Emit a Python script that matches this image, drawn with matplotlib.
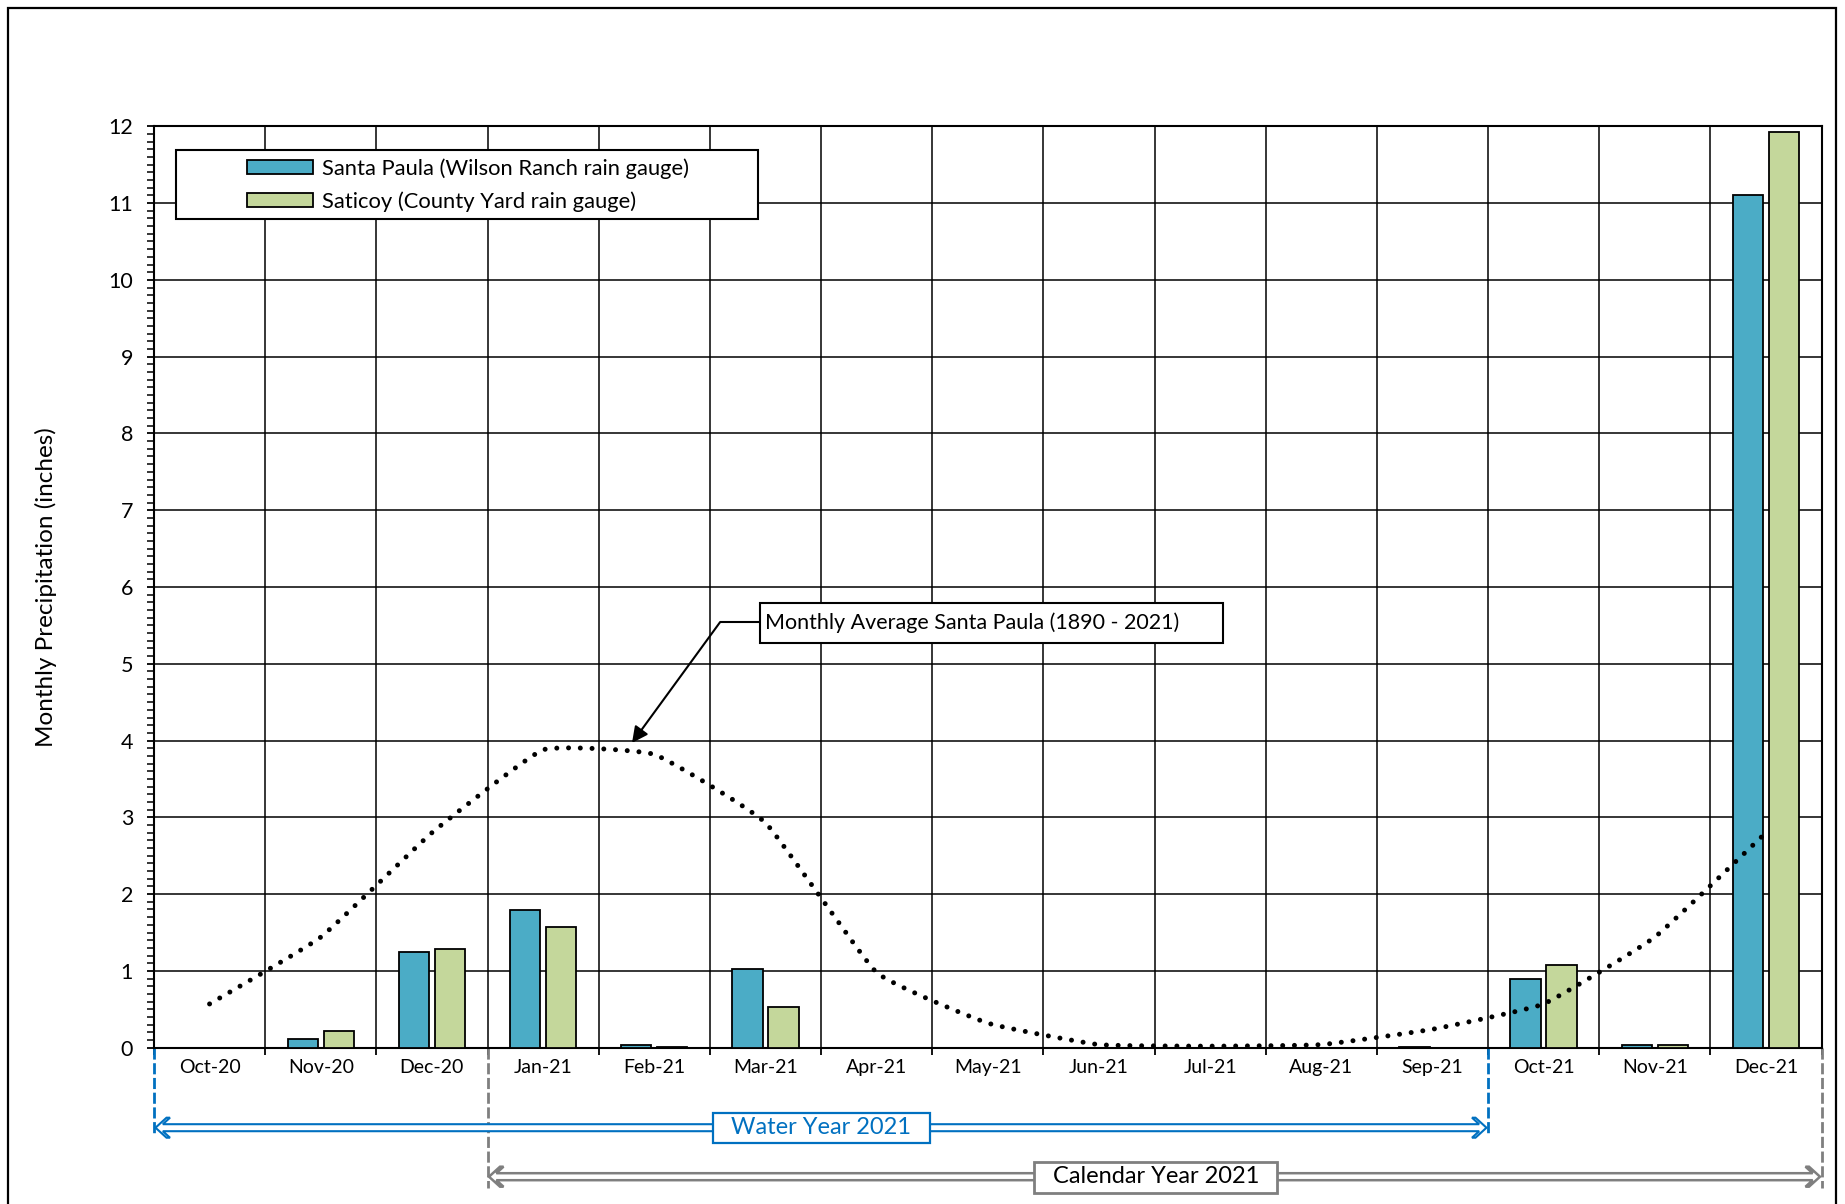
import numpy as np
import matplotlib
matplotlib.use("Agg")
import matplotlib.pyplot as plt
from matplotlib.patches import Rectangle, Polygon
from matplotlib.ticker import MultipleLocator, FixedLocator

# ---- data -------------------------------------------------------------
months = ["Oct-20", "Nov-20", "Dec-20", "Jan-21", "Feb-21", "Mar-21", "Apr-21",
          "May-21", "Jun-21", "Jul-21", "Aug-21", "Sep-21", "Oct-21", "Nov-21",
          "Dec-21"]
santa_paula = [0.00, 0.11, 1.24, 1.79, 0.04, 1.03, 0.00, 0.00, 0.00, 0.00,
               0.00, 0.01, 0.90, 0.03, 11.11]
saticoy = [0.00, 0.22, 1.28, 1.57, 0.01, 0.53, 0.00, 0.00, 0.00, 0.00,
           0.00, 0.00, 1.08, 0.03, 11.92]
monthly_average = [0.57, 1.44, 2.80, 3.88, 3.82, 2.93, 0.98, 0.32, 0.04, 0.02,
                   0.04, 0.24, 0.57, 1.44, 2.80]

series_labels = ["Santa Paula (Wilson Ranch rain gauge)",
                 "Saticoy (County Yard rain gauge)"]
average_label = "Monthly Average Santa Paula (1890 - 2021)"
water_year_label = "Water Year 2021"
calendar_year_label = "Calendar Year 2021"

# ---- style ------------------------------------------------------------
plt.rcParams['font.family'] = ['Lato', 'DejaVu Sans']
BLUE_BAR = '#4BACC6'
GREEN_BAR = '#C4D79B'
WY_BLUE = '#0070C0'
CY_GRAY = '#7F7F7F'

W, H = 1845, 1204
fig = plt.figure(figsize=(W / 100, H / 100), dpi=100)
ax_l, ax_r, ax_t, ax_b = 154, 1821.5, 126.3, 1047.7
ax = fig.add_axes([ax_l / W, 1 - ax_b / H, (ax_r - ax_l) / W, (ax_b - ax_t) / H])
n_cat = len(months)
cat_px = (ax_r - ax_l) / n_cat
axes_h_px = ax_b - ax_t

# outer chart border
fig.add_artist(Rectangle((8 / W, -0.02), (1836 - 8) / W, 1 - 8 / H + 0.02,
                         transform=fig.transFigure, fill=False,
                         edgecolor='black', lw=1.6))

x = np.arange(n_cat)
bar_w = 0.273
bar_off = 0.162
ax.bar(x - bar_off, santa_paula, bar_w, color=BLUE_BAR, edgecolor='black',
       lw=1.3, label=series_labels[0], zorder=3)
ax.bar(x + bar_off, saticoy, bar_w, color=GREEN_BAR, edgecolor='black',
       lw=1.3, label=series_labels[1], zorder=3)


def smooth_curve(xs, ys, k=0.06, n=40):
    """Bezier smoothing through the points with short tangent handles."""
    pts = np.column_stack([xs, ys]).astype(float)
    P = np.vstack([pts[0], pts, pts[-1]])
    segs = []
    t = np.linspace(0, 1, n, endpoint=False)[:, None]
    for i in range(1, len(P) - 2):
        p0, p1, p2, p3 = P[i - 1], P[i], P[i + 1], P[i + 2]
        c1 = p1 + (p2 - p0) * k
        c2 = p2 - (p3 - p1) * k
        segs.append((1 - t) ** 3 * p1 + 3 * (1 - t) ** 2 * t * c1
                    + 3 * (1 - t) * t ** 2 * c2 + t ** 3 * p2)
    segs.append(pts[-1:])
    c = np.vstack(segs)
    return c[:, 0], c[:, 1]


cx, cy = smooth_curve(x, monthly_average)
ax.plot(cx, cy, color='black', lw=3.6, linestyle=(0, (0.001, 2.35)),
        dash_capstyle='round', zorder=4)

# ---- axes, ticks, grid ------------------------------------------------
ax.set_xlim(-0.5, n_cat - 0.5)
ax.set_ylim(0, 12)
ax.set_xticks(x)
ax.set_xticklabels(months)
ax.xaxis.set_minor_locator(FixedLocator(np.arange(-0.5, n_cat, 1.0)))
ax.set_yticks(np.arange(0, 13, 1))
ax.yaxis.set_minor_locator(MultipleLocator(0.1))
ax.tick_params(axis='x', which='major', length=0, pad=8, labelsize=14)
ax.tick_params(axis='x', which='minor', length=5, width=1.3, direction='out')
ax.tick_params(axis='y', which='major', length=5, width=1.3, direction='out',
               pad=10, labelsize=15.5)
ax.tick_params(axis='y', which='minor', length=5, width=1.1, direction='out')
ax.set_axisbelow(True)
ax.grid(which='minor', axis='x', color='black', lw=1.1)
ax.grid(which='major', axis='y', color='black', lw=1.1)
ax.grid(which='major', axis='x', visible=False)
for s in ax.spines.values():
    s.set_linewidth(1.5)

ax.set_ylabel("Monthly Precipitation (inches)", fontsize=17.5, va='center')
ax.yaxis.set_label_coords((46 - ax_l) / (ax_r - ax_l), 0.5)

# ---- legend -----------------------------------------------------------
ax.add_patch(Rectangle((0.0132, 0.8997), 0.349, 0.0746, transform=ax.transAxes,
                       facecolor='white', edgecolor='black', lw=1.5, zorder=5))
leg_fs = 15.8
leg_em = leg_fs * 100 / 72
leg = ax.legend(loc='upper left', bbox_to_anchor=(0.0558, 0.9655),
                frameon=False, borderpad=0, borderaxespad=0,
                handlelength=66 / leg_em, handleheight=13 / leg_em,
                handletextpad=9 / leg_em, labelspacing=0.56, fontsize=leg_fs)
leg.set_zorder(6)

# ---- callout for the long-term average --------------------------------
ax.add_patch(Rectangle((4.95, 5.271), 4.17, 0.525, facecolor='white',
                       edgecolor='black', lw=1.5, zorder=6))
ax.text(5.0, 5.54, average_label, ha='left', va='center', fontsize=15.5,
        zorder=7)
ax.plot([4.95, 4.593], [5.544, 5.544], color='black', lw=1.5, zorder=6,
        solid_capstyle='butt')
ax.annotate('', xy=(3.80, 3.97), xytext=(4.593, 5.544),
            arrowprops=dict(arrowstyle='-|>,head_length=0.6,head_width=0.3',
                            color='black', lw=1.5, mutation_scale=16,
                            shrinkA=0, shrinkB=0), zorder=6)

# ---- water year / calendar year spans below the axis ------------------
tr = ax.get_xaxis_transform()


def to_axes_y(py):
    return (ax_b - py) / axes_h_px


def span_arrow(x0, x1, y, color, lw):
    """Hollow double-headed arrow between two category boundaries."""
    def pt(xd, dx_px, dy_px):
        return (xd + dx_px / cat_px, y + dy_px / axes_h_px)

    tip, hl, hw, th, sh = 1.5, 11.0, 10.0, 3.5, 3.5
    ix = th + hl * sh / hw
    verts = [pt(x0, tip, 0), pt(x0, tip + hl, hw), pt(x0, tip + hl + th, hw),
             pt(x0, tip + ix, sh), pt(x1, -tip - ix, sh),
             pt(x1, -tip - hl - th, hw), pt(x1, -tip - hl, hw), pt(x1, -tip, 0),
             pt(x1, -tip - hl, -hw), pt(x1, -tip - hl - th, -hw),
             pt(x1, -tip - ix, -sh), pt(x0, tip + ix, -sh),
             pt(x0, tip + hl + th, -hw), pt(x0, tip + hl, -hw)]
    ax.add_patch(Polygon(verts, closed=True, transform=tr, facecolor='white',
                         edgecolor=color, lw=lw, joinstyle='miter',
                         clip_on=False, zorder=7))


wy_y = to_axes_y(1127.7)
cy_y = to_axes_y(1176.7)

for xb in (-0.5, 11.5):
    ax.plot([xb, xb], [0, to_axes_y(1134)], transform=tr, clip_on=False,
            color=WY_BLUE, lw=2.0, linestyle=(0, (4, 1.3)))
for xb in (2.5, 14.5):
    ax.plot([xb, xb], [0, to_axes_y(1188)], transform=tr, clip_on=False,
            color=CY_GRAY, lw=2.0, linestyle=(0, (4, 1.3)))

span_arrow(-0.5, 11.5, wy_y, WY_BLUE, 1.5)
span_arrow(2.5, 14.5, cy_y, CY_GRAY, 1.8)

ax.add_patch(Rectangle((4.527, to_axes_y(1143.3)), 6.477 - 4.527,
                       to_axes_y(1112.7) - to_axes_y(1143.3), transform=tr,
                       facecolor='white', edgecolor=WY_BLUE, lw=1.6,
                       clip_on=False, zorder=8))
ax.text(5.502, wy_y, water_year_label, transform=tr, ha='center', va='center',
        color=WY_BLUE, fontsize=17, zorder=9, clip_on=False)

ax.add_patch(Rectangle((7.418, to_axes_y(1192.7)), 9.605 - 7.418,
                       to_axes_y(1161.7) - to_axes_y(1192.7), transform=tr,
                       facecolor='white', edgecolor=CY_GRAY, lw=2.0,
                       clip_on=False, zorder=8))
ax.text(8.512, cy_y, calendar_year_label, transform=tr, ha='center',
        va='center', color='black', fontsize=17, zorder=9, clip_on=False)

fig.savefig('out.png', dpi=100)
